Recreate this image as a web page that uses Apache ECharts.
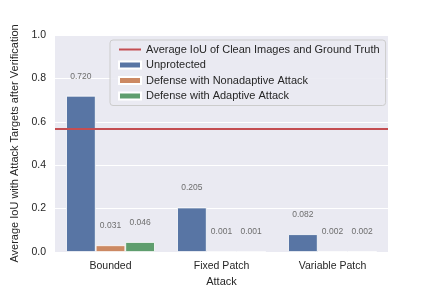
<!DOCTYPE html>
<html>
<head>
<meta charset="utf-8">
<script src="https://cdn.jsdelivr.net/npm/echarts@6/dist/echarts.min.js"></script>
<style>
  html, body { margin: 0; padding: 0; background: #ffffff; }
  #chart { width: 432px; height: 288px; }
</style>
</head>
<body>
<div id="chart"></div>
<script>
const categories = ['Bounded', 'Fixed Patch', 'Variable Patch'];
const unprotected = [0.720, 0.205, 0.082];
const nonadaptive = [0.031, 0.001, 0.002];
const adaptive = [0.046, 0.001, 0.002];
const cleanIoU = 0.575;
const seriesNames = ['Average IoU of Clean Images and Ground Truth', 'Unprotected', 'Defense with Nonadaptive Attack', 'Defense with Adaptive Attack'];
const yMin = 0, yMax = 1, yStep = 0.2;

const FONT = '"Liberation Sans", Arial, sans-serif';
const TXT = '#262626';
const LINE_ICON = 'path://M0,0 L0.01,0 Z M0,7 L0.01,7 Z M0,2.6 H22 V4.4 H0 Z';

const barLabel = {
  show: true,
  position: 'top',
  distance: 15,
  fontFamily: FONT,
  fontSize: 8.5,
  color: '#6e6e6e',
  formatter: p => p.value.toFixed(3)
};

function bar(name, data, color) {
  return {
    name: name,
    type: 'bar',
    data: data,
    barGap: '0%',
    barCategoryGap: '20%',
    itemStyle: { color: color, borderColor: '#ffffff', borderWidth: 0.8 },
    label: barLabel,
    z: 2
  };
}

const chart = echarts.init(document.getElementById('chart'), null, { renderer: 'canvas' });
chart.setOption({
  animation: false,
  backgroundColor: '#ffffff',
  textStyle: { fontFamily: FONT },
  grid: {
    left: 55, right: 44, top: 35, bottom: 36,
    show: true, backgroundColor: '#eaeaf2', borderWidth: 0,
    containLabel: false,
    outerBoundsMode: 'none'
  },
  legend: {
    orient: 'vertical',
    left: 110, top: 40,
    data: [
      { name: seriesNames[0], icon: LINE_ICON, itemStyle: { color: '#c44e52' } },
      { name: seriesNames[1], icon: 'rect' },
      { name: seriesNames[2], icon: 'rect' },
      { name: seriesNames[3], icon: 'rect' }
    ],
    backgroundColor: 'rgba(234,234,242,0.9)',
    borderColor: '#cccccc',
    borderWidth: 1,
    borderRadius: 3,
    padding: [4, 6, 4, 8],
    itemWidth: 22,
    itemHeight: 7,
    itemGap: 4.5,
    textStyle: { fontFamily: FONT, fontSize: 11, color: TXT, lineHeight: 11 }
  },
  xAxis: {
    type: 'category',
    data: categories,
    name: 'Attack',
    nameLocation: 'middle',
    nameGap: 22,
    nameTextStyle: { fontFamily: FONT, fontSize: 11, color: TXT },
    axisLine: { show: false },
    axisTick: { show: false },
    axisLabel: { fontFamily: FONT, fontSize: 10.5, color: TXT, margin: 9 },
    splitLine: { show: false }
  },
  yAxis: {
    type: 'value',
    min: yMin, max: yMax, interval: yStep,
    name: 'Average IoU with Attack Targets after Verification',
    nameLocation: 'middle',
    nameGap: 26,
    nameTextStyle: { fontFamily: FONT, fontSize: 11, color: TXT },
    axisLine: { show: false },
    axisTick: { show: false },
    axisLabel: { fontFamily: FONT, fontSize: 10.5, color: TXT, margin: 9, formatter: v => v.toFixed(1) },
    splitLine: { show: true, lineStyle: { color: '#ffffff', width: 1 } }
  },
  series: [
    {
      name: seriesNames[0],
      type: 'line',
      data: [],
      symbol: 'none',
      lineStyle: { color: '#c44e52', width: 1.8 },
      itemStyle: { color: '#c44e52' },
      z: 5,
      markLine: {
        silent: true,
        symbol: ['none', 'none'],
        label: { show: false },
        lineStyle: { color: '#c44e52', width: 1.8, type: 'solid' },
        data: [{ yAxis: cleanIoU }]
      }
    },
    bar(seriesNames[1], unprotected, '#5875a4'),
    bar(seriesNames[2], nonadaptive, '#cc8963'),
    bar(seriesNames[3], adaptive, '#5f9e6e')
  ]
});
</script>
</body>
</html>
